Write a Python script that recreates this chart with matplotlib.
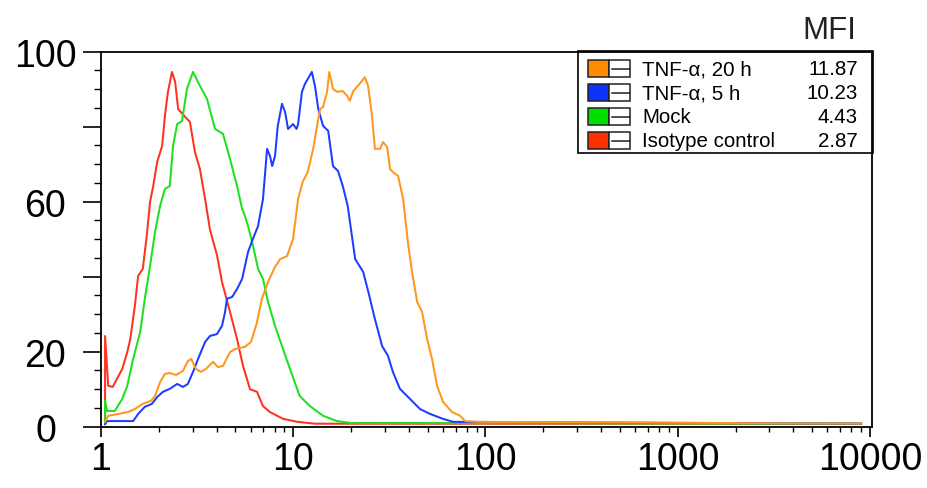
import matplotlib
matplotlib.use("Agg")
import matplotlib.pyplot as plt
from matplotlib.patches import Rectangle
from matplotlib.lines import Line2D
from matplotlib.transforms import Affine2D
from matplotlib.ticker import LogLocator, MultipleLocator, NullFormatter

plt.rcParams['font.family'] = ['Liberation Sans', 'DejaVu Sans']

# ---- data (fluorescence intensity, % of max) ----
iso_x = [1.05, 1.05, 1.09, 1.15, 1.29, 1.37, 1.42, 1.50, 1.56, 1.65,
         1.73, 1.80, 1.87, 1.96, 2.08, 2.15, 2.23, 2.34, 2.43, 2.52,
         2.74, 2.90, 3.08, 3.27, 3.48, 3.69, 4.01, 4.26, 4.69, 5.10,
         5.48, 5.96, 6.48, 6.96, 7.57, 8.85, 10.5, 13.0, 9000]
iso_y = [0.7, 24.2, 10.9, 10.6, 15.4, 19.9, 23.4, 32.2, 40.2, 42.1,
         50.9, 60.0, 64.2, 70.6, 74.9, 82.9, 89.3, 94.6, 92.0, 84.7,
         82.6, 81.3, 73.3, 68.7, 60.7, 52.5, 45.8, 38.6, 30.6, 23.4,
         16.2, 10.0, 9.3, 5.5, 3.9, 2.1, 1.3, 0.8, 0.8]

mock_x = [1.05, 1.05, 1.075, 1.18, 1.29, 1.37, 1.47, 1.60, 1.69, 1.80,
          1.91, 2.03, 2.15, 2.28, 2.37, 2.49, 2.64, 2.80, 3.01, 3.27,
          3.56, 3.92, 4.31, 4.69, 5.10, 5.42, 5.61, 5.82, 6.18, 6.56,
          6.96, 7.39, 8.04, 8.74, 9.62, 10.8, 12.2, 14.3, 16.9, 19.8,
          9000]
mock_y = [0.7, 6.9, 4.2, 4.2, 7.4, 10.9, 18.1, 25.3, 34.1, 42.9,
          51.9, 58.9, 63.4, 64.2, 74.9, 80.7, 81.5, 90.1, 94.6, 90.9,
          87.4, 79.4, 78.1, 71.4, 64.2, 58.1, 56.2, 53.5, 48.2, 42.1,
          39.4, 33.3, 26.9, 21.5, 15.4, 8.2, 5.5, 2.9, 1.5, 1.0,
          0.8]

tnf5_x = [1.05, 1.075, 1.47, 1.56, 1.69, 1.84, 1.96, 2.10, 2.28, 2.49,
          2.67, 2.83, 3.01, 3.20, 3.48, 3.69, 4.01, 4.26, 4.42, 4.52,
          4.81, 5.10, 5.42, 5.61, 5.82, 6.17, 6.56, 6.96, 7.31, 7.57,
          7.77, 8.04, 8.31, 8.74, 9.07, 9.40, 9.98, 10.4, 10.6, 11.1,
          11.5, 11.9, 12.5, 13.0, 13.5, 14.3, 15.2, 16.1, 17.1, 18.1,
          19.2, 21.0, 23.1, 24.6, 26.6, 29.0, 31.1, 33.0, 35.9, 40.5,
          45.7, 51.5, 60.1, 67.8, 9000]
tnf5_y = [0.7, 1.5, 1.5, 3.4, 5.3, 6.1, 7.9, 9.3, 10.1, 11.4,
          10.6, 11.4, 14.6, 18.1, 22.6, 24.2, 24.7, 26.9, 30.6, 34.1,
          34.6, 36.7, 39.4, 42.9, 46.6, 50.1, 53.5, 60.7, 74.1, 72.2,
          69.5, 72.2, 80.2, 86.1, 83.9, 79.4, 80.7, 79.4, 80.7, 89.3,
          91.4, 92.7, 94.6, 90.6, 84.7, 80.2, 78.9, 69.5, 68.2, 64.2,
          58.9, 44.7, 41.3, 35.9, 28.7, 21.5, 18.9, 14.6, 10.1, 7.4,
          4.7, 3.4, 2.1, 1.3, 0.8]

tnf20_x = [1.05, 1.09, 1.23, 1.38, 1.50, 1.65, 1.82, 1.91, 2.03, 2.15,
           2.28, 2.46, 2.67, 2.83, 2.94, 3.12, 3.31, 3.51, 3.83, 4.06,
           4.31, 4.69, 4.98, 5.61, 6.03, 6.45, 6.87, 7.39, 8.04, 8.55,
           9.29, 9.98, 10.6, 11.2, 11.9, 12.7, 13.3, 13.8, 14.3, 15.0,
           15.4, 16.1, 16.9, 18.1, 19.1, 19.7, 20.5, 21.7, 23.6, 24.5,
           25.7, 26.6, 28.3, 29.3, 30.8, 31.9, 33.0, 35.1, 37.3, 39.6,
           41.5, 44.1, 46.8, 49.7, 52.7, 56.0, 60.2, 67.0, 73.8, 78.3,
           90.4, 9000]
tnf20_y = [1.3, 2.9, 3.4, 3.9, 4.7, 6.1, 6.9, 8.2, 11.9, 14.1,
           14.3, 13.8, 14.9, 17.5, 18.1, 15.4, 14.6, 15.4, 17.3, 15.9,
           16.2, 19.9, 20.7, 21.3, 22.6, 27.5, 34.1, 38.6, 42.6, 44.7,
           45.5, 50.1, 60.7, 65.3, 67.9, 74.1, 80.2, 84.7, 85.3, 89.3,
           94.6, 90.1, 89.3, 89.5, 88.2, 86.9, 89.5, 90.9, 93.2, 90.9,
           82.9, 74.1, 74.1, 75.9, 74.6, 68.7, 67.9, 66.9, 60.7, 48.7,
           41.3, 33.3, 30.6, 23.4, 18.1, 10.9, 6.6, 3.9, 2.9, 1.5,
           1.3, 0.8]

legend_labels = ["TNF-\u03b1, 20 h", "TNF-\u03b1, 5 h", "Mock", "Isotype control"]
mfi_values = [11.87, 10.23, 4.43, 2.87]
line_colors = ["#FF961E", "#1E3CFF", "#1EE01E", "#FF3220"]
swatch_colors = ["#FF8C00", "#1032FF", "#00E000", "#FF3000"]

x_ticks = [1, 10, 100, 1000, 10000]
x_ticklabels = ["1", "10", "100", "1000", "10000"]
y_ticks = [0, 20, 40, 60, 80, 100]
y_ticklabels = ["0", "20", "", "60", "", "100"]

# ---- figure ----
W, H = 928, 489
fig = plt.figure(figsize=(W / 100, H / 100), dpi=100)
ax = fig.add_axes([101 / W, 1 - 427.7 / H, 771 / W, 375 / H])

series = [(iso_x, iso_y, line_colors[3]), (mock_x, mock_y, line_colors[2]),
          (tnf5_x, tnf5_y, line_colors[1]), (tnf20_x, tnf20_y, line_colors[0])]
for xs, ys, c in series:
    ax.plot(xs, ys, color=c, lw=1.45)

ax.set_xscale('log')
ax.set_xlim(1, 10250)
ax.set_ylim(0, 100)

ax.set_xticks(x_ticks)
ax.set_xticklabels(x_ticklabels)
ax.xaxis.set_minor_locator(LogLocator(base=10, subs=range(2, 10)))
ax.xaxis.set_minor_formatter(NullFormatter())
ax.set_yticks(y_ticks)
ax.set_yticklabels(y_ticklabels)
ax.yaxis.set_minor_locator(MultipleLocator(5))

ax.tick_params(axis='x', which='major', direction='out', length=7.5, width=1.2,
               labelsize=27, pad=3)
ax.tick_params(axis='x', which='minor', direction='out', length=3.5, width=1.0)
ax.tick_params(axis='y', which='major', direction='out', length=13, width=1.2,
               labelsize=27, pad=27)
ax.tick_params(axis='y', which='minor', direction='out', length=5, width=1.0)
for lbl in ax.get_yticklabels():
    lbl.set_horizontalalignment('center')

for sp in ax.spines.values():
    sp.set_linewidth(1.3)
    sp.set_color('black')

# ---- legend panel (pixel coordinates, origin top-left) ----
tr = Affine2D().scale(1 / W, -1 / H).translate(0, 1) + fig.transFigure
fig.add_artist(Rectangle((578, 52), 295, 102, transform=tr, fill=False,
                         edgecolor='black', lw=1.2))
for i, (lab, val, c) in enumerate(zip(legend_labels, mfi_values, swatch_colors)):
    cy = 69.5 + 24 * i
    fig.add_artist(Rectangle((588, cy - 8.5), 21, 17, transform=tr,
                             facecolor=c, edgecolor='#222222', lw=1.1))
    fig.add_artist(Rectangle((609, cy - 8.5), 21, 17, transform=tr,
                             facecolor='white', edgecolor='#222222', lw=1.1))
    fig.add_artist(Line2D([612, 630], [cy, cy], transform=tr,
                          color='#222222', lw=1.1))
    fig.text(642, cy, lab, transform=tr, ha='left', va='center', fontsize=14.8)
    fig.text(858, cy, f"{val:.2f}", transform=tr, ha='right', va='center',
             fontsize=14.8)

fig.text(829, 31, "MFI", transform=tr, ha='center', va='center', fontsize=22.5,
         color='#222222')

fig.savefig("out.png", dpi=100)
